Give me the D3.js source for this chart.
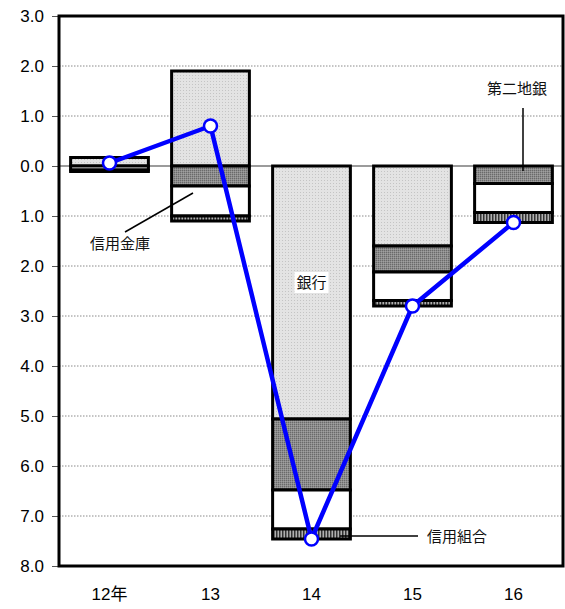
<!DOCTYPE html>
<html>
<head>
<meta charset="utf-8">
<script src="https://cdn.jsdelivr.net/npm/d3@7"></script>
<style>
  html, body { margin: 0; padding: 0; background: #fff; }
  svg { display: block; }
</style>
</head>
<body>
<svg id="chart" width="565" height="609"></svg>
<script>
// Fiscal years on the x axis
const years = ["12年", "13", "14", "15", "16"];
// Contribution of each type of institution (percentage points)
const banks        = [0.17, 1.9, -5.06, -1.6, 0.0];   // 銀行
const secondTier   = [0.0, -0.4, -1.42, -0.52, -0.35]; // 第二地銀
const shinkin      = [-0.08, -0.6, -0.78, -0.57, -0.58]; // 信用金庫
const creditCoops  = [-0.03, -0.1, -0.2, -0.11, -0.2];  // 信用組合
// Y tick values (labels show magnitude)
const yTicks = [3, 2, 1, 0, -1, -2, -3, -4, -5, -6, -7, -8];

const seriesKeys = ["banks", "secondTier", "shinkin", "creditCoops"];
const rows = years.map((y, i) => ({
  year: y,
  banks: banks[i],
  secondTier: secondTier[i],
  shinkin: shinkin[i],
  creditCoops: creditCoops[i]
}));
const totals = rows.map(r => seriesKeys.reduce((s, k) => s + r[k], 0));

const svg = d3.select("#chart");
const margin = { left: 59, right: 1, top: 16, bottom: 43 };
const W = 565, H = 609;

const x = d3.scaleBand().domain(years)
  .range([margin.left, W - margin.right])
  .paddingInner(0.23).paddingOuter(0.115);
const y = d3.scaleLinear().domain([-8, 3]).range([H - margin.bottom, margin.top]);

// Fill patterns
const defs = svg.append("defs");
const pBank = defs.append("pattern").attr("id", "pBank")
  .attr("patternUnits", "userSpaceOnUse").attr("width", 3).attr("height", 3);
pBank.append("rect").attr("width", 3).attr("height", 3).attr("fill", "#e3e3e3");
pBank.append("rect").attr("x", 0).attr("y", 0).attr("width", 1).attr("height", 1).attr("fill", "#c4c4c4");

const pSecond = defs.append("pattern").attr("id", "pSecond")
  .attr("patternUnits", "userSpaceOnUse").attr("width", 2).attr("height", 2);
pSecond.append("rect").attr("width", 2).attr("height", 2).attr("fill", "#8c8c8c");
pSecond.append("rect").attr("x", 0).attr("y", 0).attr("width", 1).attr("height", 1).attr("fill", "#6a6a6a");
pSecond.append("rect").attr("x", 1).attr("y", 1).attr("width", 1).attr("height", 1).attr("fill", "#a0a0a0");

const pCoop = defs.append("pattern").attr("id", "pCoop")
  .attr("patternUnits", "userSpaceOnUse").attr("width", 3).attr("height", 3);
pCoop.append("rect").attr("width", 3).attr("height", 3).attr("fill", "#b0b0b0");
pCoop.append("rect").attr("x", 0).attr("width", 1.5).attr("height", 3).attr("fill", "#333");

const fills = {
  banks: "url(#pBank)",
  secondTier: "url(#pSecond)",
  shinkin: "#ffffff",
  creditCoops: "url(#pCoop)"
};

// Grid lines
svg.append("g").selectAll("line").data(yTicks.filter(t => t !== 0)).join("line")
  .attr("x1", margin.left).attr("x2", W - margin.right)
  .attr("y1", d => y(d)).attr("y2", d => y(d))
  .attr("stroke", "#8a8a8a").attr("stroke-width", 1)
  .attr("stroke-dasharray", "1.5,1.5");

// Zero line
svg.append("line")
  .attr("x1", margin.left).attr("x2", W - margin.right)
  .attr("y1", y(0)).attr("y2", y(0))
  .attr("stroke", "#7a7a7a").attr("stroke-width", 1.5);

// Y axis with magnitude labels
const yAxis = d3.axisLeft(y).tickValues(yTicks)
  .tickFormat(d => Math.abs(d).toFixed(1)).tickSize(7).tickPadding(8);
const gy = svg.append("g").attr("transform", `translate(${margin.left},0)`).call(yAxis);
gy.select(".domain").remove();
gy.selectAll(".tick line").attr("stroke", "#555");
gy.selectAll(".tick text")
  .attr("font-family", "'Liberation Sans', Arial, sans-serif")
  .attr("font-size", 17).attr("fill", "#000");

// X axis labels
const xAxis = d3.axisBottom(x).tickSize(0).tickPadding(22);
const gx = svg.append("g").attr("transform", `translate(0,${y(-8)})`).call(xAxis);
gx.select(".domain").remove();
gx.selectAll(".tick text")
  .attr("font-family", "'Liberation Sans', 'Noto Sans CJK JP', sans-serif")
  .attr("font-size", 17).attr("fill", "#000");

// Stacked bars, diverging around zero
const stack = d3.stack().keys(seriesKeys).offset(d3.stackOffsetDiverging);
const layers = stack(rows);
const gBars = svg.append("g");
layers.forEach(layer => {
  gBars.append("g").selectAll("rect").data(layer.filter(d => Math.abs(d[1] - d[0]) > 1e-9)).join("rect")
    .attr("x", d => x(d.data.year))
    .attr("width", x.bandwidth())
    .attr("y", d => y(Math.max(d[0], d[1])))
    .attr("height", d => Math.abs(y(d[0]) - y(d[1])))
    .attr("fill", fills[layer.key])
    .attr("stroke", "#000").attr("stroke-width", 3)
    .attr("stroke-linejoin", "miter");
});

// Plot frame
svg.append("rect")
  .attr("x", margin.left).attr("y", margin.top)
  .attr("width", W - margin.right - margin.left - 1)
  .attr("height", y(-8) - margin.top)
  .attr("fill", "none").attr("stroke", "#000").attr("stroke-width", 3);

// Callouts
const cjk = "'Noto Sans CJK JP', sans-serif";
const ann = svg.append("g").attr("font-family", cjk).attr("font-size", 15).attr("fill", "#111");

// 信用金庫
ann.append("line").attr("x1", 125).attr("y1", 232).attr("x2", 193).attr("y2", 193)
  .attr("stroke", "#000").attr("stroke-width", 1.5);
ann.append("text").attr("x", 120).attr("y", 249).attr("text-anchor", "middle").text("信用金庫");

// 銀行 (label on white box inside the bar)
const bx = x("14") + x.bandwidth() / 2;
ann.append("rect").attr("x", bx - 17).attr("y", 272).attr("width", 34).attr("height", 21).attr("fill", "#fff");
ann.append("text").attr("x", bx).attr("y", 288).attr("text-anchor", "middle").text("銀行");

// 信用組合
ann.append("line").attr("x1", 340).attr("y1", 536).attr("x2", 418).attr("y2", 536)
  .attr("stroke", "#000").attr("stroke-width", 1.5);
ann.append("text").attr("x", 427).attr("y", 542).text("信用組合");

// 第二地銀
ann.append("line").attr("x1", 523).attr("y1", 108).attr("x2", 523).attr("y2", 171)
  .attr("stroke", "#000").attr("stroke-width", 1.5);
ann.append("text").attr("x", 517).attr("y", 94).attr("text-anchor", "middle").text("第二地銀");

// Total line with markers
const cx = d => x(d.year) + x.bandwidth() / 2;
const linePts = rows.map((r, i) => ({ year: r.year, v: totals[i] }));
svg.append("path").datum(linePts)
  .attr("d", d3.line().x(cx).y(d => y(d.v)))
  .attr("fill", "none").attr("stroke", "#0000ff").attr("stroke-width", 4.5)
  .attr("stroke-linejoin", "round");
svg.append("g").selectAll("circle").data(linePts).join("circle")
  .attr("cx", cx).attr("cy", d => y(d.v)).attr("r", 6.5)
  .attr("fill", "#fff").attr("stroke", "#0000ff").attr("stroke-width", 2.5);
</script>
</body>
</html>
